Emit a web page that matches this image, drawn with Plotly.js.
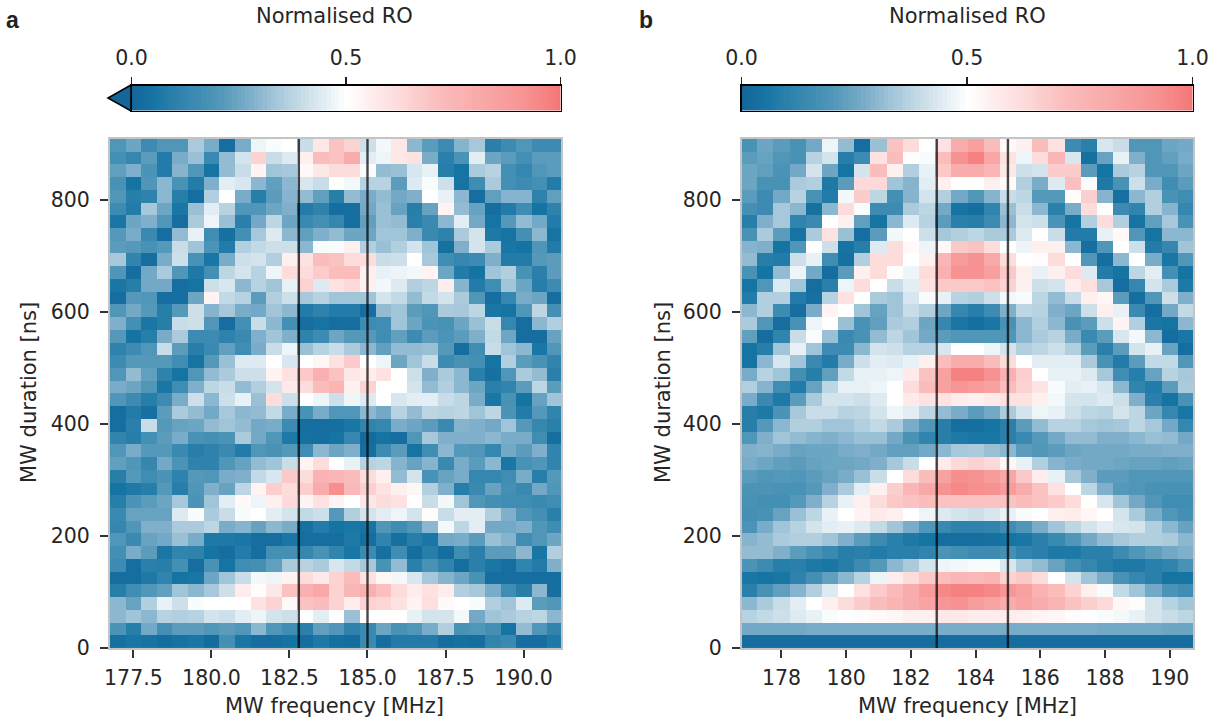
<!DOCTYPE html>
<html><head><meta charset="utf-8">
<script src="https://cdn.plot.ly/plotly-3.0.1.min.js"></script>
<style>html,body{margin:0;padding:0;background:#fff}#c{width:1217px;height:724px}</style>
</head><body><div id="c"></div>
<script>
const freqA=[177,177.5,178,178.5,179,179.5,180,180.5,181,181.5,182,182.5,183,183.5,184,184.5,185,185.5,186,186.5,187,187.5,188,188.5,189,189.5,190,190.5,191];
const freqB=[177,177.5,178,178.5,179,179.5,180,180.5,181,181.5,182,182.5,183,183.5,184,184.5,185,185.5,186,186.5,187,187.5,188,188.5,189,189.5,190,190.5];
const durations=[896.7,874,851.3,828.6,805.9,783.2,760.5,737.8,715.1,692.4,669.7,647,624.3,601.6,578.9,556.2,533.5,510.8,488.1,465.4,442.7,420,397.3,374.6,351.9,329.2,306.5,283.8,261.1,238.4,215.7,193,170.3,147.6,124.9,102.2,79.5,56.8,34.1,11.4];
const markerFreqs=[182.8,185];
const barValues=[0,.01,.02,.03,.04,.05,.06,.07,.08,.09,.1,.11,.12,.13,.14,.15,.16,.17,.18,.19,.2,.21,.22,.23,.24,.25,.26,.27,.28,.29,.3,.31,.32,.33,.34,.35,.36,.37,.38,.39,.4,.41,.42,.43,.44,.45,.46,.47,.48,.49,.5,.51,.52,.53,.54,.55,.56,.57,.58,.59,.6,.61,.62,.63,.64,.65,.66,.67,.68,.69,.7,.71,.72,.73,.74,.75,.76,.77,.78,.79,.8,.81,.82,.83,.84,.85,.86,.87,.88,.89,.9,.91,.92,.93,.94,.95,.96,.97,.98,.99,1];
const roA=[
[.2,.25,.15,.2,.2,.35,.27,.03,.27,.47,.49,.5,.4,.58,.7,.65,.41,.48,.58,.3,.22,.15,.29,.34,.1,.15,.2,.15,.15],
[.17,.13,.22,.08,.27,.32,.14,.31,.42,.65,.4,.44,.55,.72,.7,.8,.45,.47,.58,.6,.27,.1,.19,.45,.25,.22,.17,.22,.22],
[.23,.28,.19,.08,.29,.2,.05,.31,.4,.54,.33,.34,.52,.58,.62,.62,.49,.31,.32,.43,.46,.09,.05,.35,.37,.17,.13,.2,.22],
[.18,.05,.2,.3,.18,.08,.28,.45,.43,.3,.23,.3,.43,.4,.5,.48,.37,.37,.22,.44,.49,.41,.05,.16,.35,.17,.15,.17,.08],
[.2,.09,.11,.3,.09,.03,.36,.5,.27,.09,.22,.29,.31,.23,.09,.31,.27,.31,.26,.28,.5,.46,.3,.03,.23,.29,.29,.11,.23],
[.15,.08,.34,.25,.06,.32,.45,.37,.2,.2,.25,.28,.08,.11,.03,.03,.26,.32,.24,.09,.24,.54,.31,.24,.03,.08,.16,.05,.11],
[.06,.25,.28,.2,.03,.35,.47,.32,.1,.26,.38,.25,.14,.17,.13,.03,.23,.32,.31,.1,.14,.3,.45,.26,.05,.21,.31,.26,.08],
[.21,.27,.14,.03,.31,.46,.16,.04,.17,.34,.44,.3,.23,.28,.31,.25,.25,.33,.33,.28,.14,.11,.35,.42,.07,.05,.17,.3,.05],
[.22,.21,.18,.21,.4,.33,.19,.08,.36,.39,.41,.41,.3,.49,.49,.55,.36,.32,.36,.42,.33,.04,.28,.42,.35,.06,.05,.2,.08],
[.34,.12,.03,.27,.41,.18,.06,.27,.41,.42,.36,.55,.6,.72,.7,.62,.62,.4,.41,.5,.34,.16,.13,.15,.28,.08,.08,.21,.22],
[.2,.03,.26,.35,.2,.07,.17,.38,.42,.37,.47,.62,.62,.67,.72,.72,.55,.46,.47,.48,.54,.25,.08,.05,.33,.36,.18,.1,.22],
[.06,.09,.26,.26,.03,.05,.41,.43,.3,.37,.33,.46,.65,.44,.6,.63,.55,.48,.44,.36,.38,.56,.29,.08,.16,.33,.25,.09,.15],
[.03,.21,.2,.03,.03,.25,.54,.39,.37,.22,.36,.41,.34,.37,.33,.33,.33,.42,.39,.31,.39,.42,.35,.2,.03,.13,.27,.25,.03],
[.2,.26,.21,.09,.21,.41,.29,.34,.27,.26,.33,.3,.08,.11,.08,.08,.03,.31,.33,.22,.2,.35,.34,.38,.06,.05,.2,.38,.17],
[.28,.17,.06,.09,.4,.41,.2,.03,.17,.4,.3,.17,.03,.05,.03,.03,.15,.16,.33,.25,.19,.18,.25,.32,.4,.13,.03,.3,.36],
[.21,.05,.09,.27,.35,.15,.15,.11,.14,.28,.33,.28,.11,.15,.25,.21,.21,.16,.23,.15,.22,.19,.22,.28,.39,.25,.03,.03,.24],
[.11,.15,.2,.4,.22,.09,.14,.23,.16,.27,.4,.47,.32,.37,.4,.35,.3,.23,.31,.31,.32,.21,.03,.16,.4,.33,.3,.06,.2],
[.15,.21,.21,.21,.16,.05,.21,.32,.44,.44,.5,.43,.5,.53,.6,.67,.5,.47,.25,.33,.4,.15,.18,.17,.05,.36,.22,.18,.12],
[.2,.31,.23,.11,.05,.2,.31,.35,.41,.41,.54,.6,.68,.78,.7,.58,.56,.6,.5,.41,.28,.35,.3,.1,.04,.2,.35,.31,.1],
[.27,.25,.2,.06,.16,.28,.38,.4,.31,.36,.42,.57,.62,.72,.76,.55,.65,.5,.5,.42,.31,.36,.3,.25,.1,.12,.22,.38,.22],
[.2,.15,.09,.15,.27,.41,.3,.41,.46,.32,.62,.41,.5,.47,.41,.47,.44,.5,.43,.45,.45,.4,.38,.27,.06,.18,.05,.24,.33],
[.03,.08,.04,.22,.35,.31,.26,.34,.3,.31,.39,.27,.18,.27,.2,.2,.3,.26,.37,.31,.38,.37,.38,.33,.38,.19,.08,.21,.12],
[.03,.1,.4,.21,.24,.25,.31,.33,.31,.26,.27,.15,.03,.03,.03,.06,.12,.13,.27,.25,.22,.14,.29,.28,.26,.33,.21,.13,.1],
[.12,.09,.17,.22,.27,.18,.17,.19,.35,.26,.2,.07,.04,.03,.05,.13,.02,.05,.03,.2,.34,.28,.28,.28,.3,.27,.27,.16,.03],
[.2,.27,.21,.21,.14,.09,.11,.14,.08,.2,.18,.21,.16,.3,.25,.28,.03,.15,.22,.05,.16,.3,.21,.2,.13,.26,.22,.28,.12],
[.23,.2,.13,.26,.19,.11,.11,.2,.24,.31,.33,.4,.54,.62,.5,.46,.37,.38,.29,.24,.29,.14,.27,.22,.3,.06,.18,.2,.12],
[.09,.21,.16,.19,.11,.21,.2,.27,.28,.39,.43,.68,.62,.77,.75,.72,.62,.55,.31,.42,.18,.24,.27,.13,.13,.16,.27,.09,.21],
[.05,.07,.09,.21,.09,.2,.28,.24,.38,.54,.66,.62,.66,.8,.93,.74,.66,.6,.55,.53,.36,.28,.09,.14,.24,.17,.14,.26,.2],
[.09,.19,.22,.25,.34,.19,.33,.45,.52,.47,.55,.63,.54,.6,.54,.5,.58,.62,.6,.5,.4,.48,.33,.2,.17,.16,.16,.14,.16],
[.14,.24,.24,.24,.44,.49,.35,.4,.49,.5,.45,.42,.39,.41,.21,.36,.42,.45,.47,.42,.51,.4,.45,.45,.36,.28,.2,.17,.1],
[.13,.2,.28,.28,.35,.35,.38,.27,.29,.24,.3,.27,.04,.08,.05,.06,.05,.2,.16,.2,.3,.48,.38,.45,.26,.26,.28,.2,.16],
[.2,.14,.24,.26,.32,.27,.07,.07,.06,.03,.03,.06,.03,.03,.03,.07,.03,.12,.04,.09,.06,.26,.27,.22,.32,.29,.16,.2,.25],
[.17,.27,.22,.06,.12,.11,.05,.03,.08,.03,.17,.17,.13,.18,.12,.06,.15,.04,.16,.03,.09,.03,.16,.1,.22,.22,.3,.06,.36],
[.15,.03,.1,.09,.17,.03,.18,.05,.16,.17,.23,.35,.37,.35,.43,.39,.34,.18,.31,.1,.18,.12,.03,.1,.06,.03,.12,.08,.28],
[.03,.03,.07,.12,.05,.06,.25,.33,.4,.48,.47,.54,.62,.57,.65,.72,.6,.53,.48,.43,.34,.29,.25,.18,.03,.03,.03,.03,.03],
[.09,.16,.2,.23,.33,.3,.34,.41,.56,.51,.58,.7,.78,.82,.65,.75,.78,.71,.62,.56,.6,.56,.36,.34,.27,.16,.09,.3,.03],
[.3,.24,.36,.46,.41,.49,.5,.5,.5,.6,.65,.52,.7,.72,.65,.56,.65,.64,.6,.54,.61,.52,.5,.49,.36,.33,.44,.22,.2],
[.3,.33,.3,.37,.36,.37,.42,.41,.45,.47,.42,.41,.5,.45,.51,.32,.5,.5,.5,.46,.42,.42,.48,.26,.33,.35,.37,.38,.3],
[.19,.09,.26,.17,.22,.22,.2,.22,.2,.3,.2,.16,.1,.23,.2,.11,.14,.25,.18,.2,.27,.36,.18,.2,.17,.05,.31,.2,.12],
[.04,.06,.05,.03,.05,.06,.02,.17,.06,.03,.03,.05,.03,.07,.04,.03,.14,.03,.08,.08,.08,.03,.04,.03,.12,.14,.03,.03,.07]
];
const roB=[
[.18,.25,.22,.18,.26,.47,.31,.03,.32,.7,.62,.5,.6,.8,.86,.72,.52,.55,.72,.6,.15,.1,.43,.4,.2,.2,.25,.26],
[.22,.24,.2,.18,.37,.42,.09,.15,.6,.72,.51,.49,.72,.92,.97,.83,.6,.47,.62,.75,.43,.04,.24,.46,.28,.2,.23,.27],
[.25,.23,.19,.26,.42,.25,.05,.42,.72,.55,.36,.46,.68,.8,.8,.75,.58,.41,.42,.67,.67,.22,.05,.35,.37,.2,.2,.25],
[.25,.18,.18,.35,.36,.07,.22,.63,.63,.33,.29,.45,.55,.5,.5,.55,.52,.36,.27,.44,.71,.49,.07,.18,.41,.27,.16,.22],
[.22,.15,.26,.37,.18,.08,.48,.67,.38,.17,.29,.42,.36,.26,.2,.29,.4,.38,.21,.21,.51,.66,.29,.04,.3,.36,.18,.16],
[.17,.15,.34,.3,.04,.3,.62,.49,.15,.15,.35,.38,.26,.05,.03,.12,.32,.4,.3,.1,.27,.62,.51,.15,.12,.36,.29,.13],
[.09,.28,.34,.12,.14,.5,.55,.23,.05,.3,.44,.37,.22,.1,.09,.15,.3,.42,.41,.19,.05,.36,.62,.36,.05,.23,.34,.18],
[.18,.35,.22,.05,.35,.6,.32,.03,.22,.48,.5,.41,.34,.36,.38,.35,.35,.44,.5,.4,.08,.08,.46,.52,.2,.05,.3,.3],
[.29,.28,.05,.2,.5,.41,.05,.09,.44,.62,.52,.47,.53,.68,.7,.62,.5,.47,.55,.55,.3,.03,.2,.5,.41,.08,.13,.33],
[.31,.09,.08,.41,.46,.16,.04,.36,.62,.62,.5,.55,.75,.88,.92,.82,.62,.5,.51,.62,.5,.2,.03,.3,.5,.27,.06,.2],
[.18,.05,.31,.47,.26,.03,.22,.55,.62,.51,.47,.62,.78,.92,.92,.86,.68,.55,.46,.55,.62,.44,.08,.05,.38,.45,.17,.05],
[.05,.2,.44,.33,.03,.1,.47,.62,.5,.4,.45,.6,.68,.68,.68,.7,.65,.55,.41,.42,.56,.61,.34,.03,.13,.42,.35,.07],
[.08,.36,.36,.08,.04,.37,.6,.5,.35,.33,.43,.49,.46,.37,.36,.41,.48,.49,.38,.31,.4,.55,.53,.22,.03,.2,.41,.28],
[.3,.36,.15,.03,.27,.54,.5,.33,.24,.33,.4,.36,.25,.13,.09,.15,.28,.38,.37,.28,.25,.41,.55,.46,.14,.03,.26,.39],
[.35,.2,.03,.18,.47,.5,.32,.18,.23,.35,.36,.25,.13,.06,.03,.06,.18,.3,.36,.3,.18,.22,.41,.54,.36,.06,.05,.3],
[.23,.03,.12,.4,.49,.32,.14,.18,.31,.38,.33,.26,.22,.2,.2,.2,.2,.3,.35,.37,.27,.14,.22,.43,.48,.3,.03,.06],
[.05,.09,.33,.46,.33,.15,.15,.3,.42,.41,.37,.37,.43,.5,.5,.47,.42,.36,.38,.41,.36,.22,.1,.22,.42,.46,.24,.03],
[.05,.3,.43,.33,.14,.08,.27,.41,.45,.44,.46,.55,.72,.8,.8,.72,.62,.5,.45,.45,.45,.35,.18,.08,.22,.39,.39,.2],
[.27,.37,.33,.17,.09,.23,.39,.46,.46,.47,.57,.7,.85,.97,.97,.92,.78,.66,.5,.46,.46,.44,.34,.16,.09,.24,.37,.34],
[.36,.29,.16,.08,.24,.38,.46,.46,.47,.5,.62,.72,.85,.9,.88,.85,.72,.65,.59,.49,.45,.46,.43,.3,.12,.08,.22,.35],
[.27,.14,.07,.22,.35,.42,.42,.41,.44,.5,.57,.6,.6,.56,.55,.57,.6,.6,.55,.48,.42,.42,.44,.41,.28,.1,.05,.18],
[.09,.07,.19,.34,.4,.4,.37,.38,.42,.47,.45,.38,.31,.27,.22,.26,.35,.42,.47,.46,.41,.38,.37,.42,.38,.25,.13,.06],
[.09,.21,.3,.36,.36,.33,.33,.36,.39,.35,.27,.2,.09,.03,.03,.05,.1,.22,.31,.37,.37,.34,.33,.34,.38,.34,.26,.13],
[.2,.28,.33,.31,.29,.28,.3,.32,.32,.26,.18,.12,.09,.07,.06,.06,.1,.14,.21,.26,.31,.31,.28,.28,.3,.32,.31,.26],
[.28,.29,.27,.24,.25,.25,.27,.28,.26,.23,.23,.26,.3,.34,.35,.32,.3,.22,.2,.22,.25,.26,.26,.26,.27,.27,.28,.28],
[.27,.25,.23,.22,.24,.25,.25,.26,.28,.34,.4,.5,.57,.63,.65,.63,.53,.46,.36,.29,.27,.26,.26,.25,.24,.24,.23,.24],
[.22,.2,.21,.2,.22,.24,.27,.32,.4,.5,.62,.72,.85,.93,.92,.88,.83,.68,.56,.46,.34,.28,.22,.22,.2,.2,.2,.2],
[.19,.19,.18,.18,.21,.28,.35,.45,.55,.66,.75,.82,.92,.95,.93,.92,.88,.8,.7,.6,.5,.38,.28,.21,.2,.18,.18,.18],
[.18,.17,.17,.21,.28,.37,.46,.55,.62,.68,.7,.72,.7,.7,.7,.7,.7,.72,.7,.67,.62,.5,.43,.33,.26,.2,.16,.16],
[.17,.18,.24,.32,.38,.46,.5,.54,.57,.55,.5,.47,.44,.42,.41,.43,.46,.49,.5,.55,.56,.53,.5,.42,.35,.27,.2,.17],
[.19,.27,.33,.37,.42,.45,.46,.44,.39,.33,.27,.2,.14,.11,.11,.12,.16,.2,.27,.33,.38,.42,.45,.43,.42,.36,.3,.24],
[.29,.31,.35,.36,.36,.33,.28,.22,.15,.1,.07,.05,.03,.03,.03,.04,.05,.06,.1,.14,.2,.26,.31,.34,.36,.36,.35,.3],
[.31,.31,.28,.22,.18,.14,.09,.1,.08,.1,.1,.12,.19,.17,.15,.15,.17,.12,.1,.07,.07,.1,.1,.15,.2,.23,.26,.28],
[.19,.15,.09,.1,.07,.06,.09,.15,.21,.3,.35,.42,.47,.48,.49,.49,.43,.35,.31,.24,.17,.13,.09,.07,.07,.1,.12,.18],
[.06,.05,.06,.11,.17,.23,.3,.37,.47,.56,.62,.68,.72,.75,.74,.76,.65,.68,.62,.5,.42,.33,.27,.18,.13,.1,.05,.05],
[.1,.18,.23,.29,.36,.44,.5,.6,.67,.73,.8,.88,.95,.97,.97,.95,.9,.85,.77,.72,.65,.55,.49,.39,.33,.26,.19,.16],
[.3,.35,.4,.45,.5,.55,.62,.67,.72,.76,.8,.84,.9,.92,.87,.84,.8,.84,.8,.76,.7,.66,.63,.53,.51,.42,.37,.33],
[.37,.39,.41,.44,.46,.49,.5,.51,.52,.53,.55,.55,.58,.58,.56,.56,.56,.55,.54,.53,.51,.5,.49,.48,.46,.42,.4,.38],
[.26,.26,.26,.26,.27,.27,.27,.27,.27,.27,.27,.27,.27,.27,.27,.27,.27,.27,.27,.27,.27,.27,.26,.26,.26,.26,.25,.25],
[.03,.03,.03,.03,.03,.03,.03,.03,.03,.03,.03,.03,.03,.03,.03,.03,.03,.03,.03,.03,.03,.03,.03,.03,.03,.03,.03,.03]
];
const W=1217,H=724;
const scale=[[0,'#14659a'],[.05,'#1674a3'],[.1,'#2a80ab'],[.2,'#4f96b8'],[.28,'#7fafca'],[.33,'#a0c4d8'],[.4,'#c8dde8'],[.46,'#e8f1f6'],[.5,'#ffffff'],[.55,'#fff0f0'],[.62,'#fddcdc'],[.72,'#fbbcbc'],[.82,'#f9a8a8'],[.92,'#f79292'],[1,'#f47676']];
const txt='#262626', font='"DejaVu Sans", sans-serif', fs=20.5, ts=21;
const px=v=>v/W, py=v=>1-v/H;
function axisBase(){return {showgrid:false,zeroline:false,showline:true,mirror:true,linecolor:'#c4c4c4',linewidth:2,ticks:'outside',ticklen:8,tickwidth:2,tickcolor:'#333',tickfont:{family:font,size:fs,color:txt},automargin:false};}
function barX(l,r,anchor){return {domain:[px(l),px(r)],range:[0,1],side:'top',anchor:anchor,showgrid:false,zeroline:false,showline:true,mirror:true,linecolor:'#000',linewidth:1.6,ticks:'outside',ticklen:7,tickwidth:1.6,tickcolor:'#222',tickvals:[0,.5,1],ticktext:['0.0','0.5','1.0'],ticklabelstandoff:4,tickfont:{family:font,size:fs,color:txt}};}
function barY(anchor){return {domain:[py(110.5),py(85.5)],range:[0,1],anchor:anchor,showticklabels:false,ticks:'',showgrid:false,zeroline:false,showline:true,mirror:true,linecolor:'#000',linewidth:1.6};}
const data=[
 {type:'heatmap',x:freqA,y:durations,z:roA,coloraxis:'coloraxis',xaxis:'x',yaxis:'y',hoverinfo:'skip'},
 {type:'heatmap',x:freqB,y:durations,z:roB,coloraxis:'coloraxis',xaxis:'x2',yaxis:'y2',hoverinfo:'skip'},
 {type:'heatmap',x:barValues,y:[0,1],z:[barValues,barValues],coloraxis:'coloraxis',xaxis:'x3',yaxis:'y3',hoverinfo:'skip'},
 {type:'heatmap',x:barValues,y:[0,1],z:[barValues,barValues],coloraxis:'coloraxis',xaxis:'x4',yaxis:'y4',hoverinfo:'skip'}
];
[['x','y'],['x2','y2']].forEach(a=>markerFreqs.forEach(f=>data.push({type:'scatter',mode:'lines',x:[f,f],y:[0,908],xaxis:a[0],yaxis:a[1],line:{color:'rgba(0,0,0,0.72)',width:2.4},showlegend:false,hoverinfo:'skip'})));
const label=(x,y,t,f,s,c,anchor,extra)=>Object.assign({xref:'paper',yref:'paper',x:px(x),y:py(y),xanchor:anchor||'center',yanchor:'middle',showarrow:false,text:t,font:{family:f,size:s,color:c}},extra||{});
const layout={width:W,height:H,margin:{l:0,r:0,t:0,b:0,autoexpand:false},paper_bgcolor:'#fff',plot_bgcolor:'#fff',showlegend:false,
 coloraxis:{colorscale:scale,cmin:0,cmax:1,showscale:false},
 xaxis:Object.assign(axisBase(),{domain:[px(110),px(561)],range:[176.75,191.2],tickvals:[177.5,180,182.5,185,187.5,190],ticktext:['177.5','180.0','182.5','185.0','187.5','190.0'],ticklabelstandoff:2,anchor:'y'}),
 yaxis:Object.assign(axisBase(),{domain:[py(648),py(139)],range:[0,908],tickvals:[0,200,400,600,800],ticklabelstandoff:6,anchor:'x'}),
 xaxis2:Object.assign(axisBase(),{domain:[px(742),px(1193)],range:[176.78,190.72],tickvals:[178,180,182,184,186,188,190],ticklabelstandoff:2,anchor:'y2'}),
 yaxis2:Object.assign(axisBase(),{domain:[py(648),py(139)],range:[0,908],tickvals:[0,200,400,600,800],ticklabelstandoff:6,anchor:'x2'}),
 xaxis3:barX(131.5,560.5,'y3'),yaxis3:barY('x3'),
 xaxis4:barX(741.5,1192.5,'y4'),yaxis4:barY('x4'),
 annotations:[
  label(4,19.5,'<b>a</b>','"Liberation Sans",Arial,sans-serif',23,'#222','left'),
  label(637,19.5,'<b>b</b>','"Liberation Sans",Arial,sans-serif',23,'#222','left'),
  label(334.5,16,'Normalised RO',font,ts,txt),
  label(967,16,'Normalised RO',font,ts,txt),
  label(334.5,706,'MW frequency [MHz]',font,ts,txt),
  label(967,706,'MW frequency [MHz]',font,ts,txt),
  label(29,393,'MW duration [ns]',font,ts,txt,'center',{textangle:-90}),
  label(663,393,'MW duration [ns]',font,ts,txt,'center',{textangle:-90})
 ],
 shapes:[{type:'path',xref:'paper',yref:'paper',path:`M ${px(131)} ${py(85)} L ${px(108)} ${py(98)} L ${px(131)} ${py(111)} Z`,fillcolor:'#14659a',line:{color:'#000',width:1.6},layer:'above'}]
};
Plotly.newPlot('c',data,layout,{displayModeBar:false,staticPlot:true});
</script></body></html>
